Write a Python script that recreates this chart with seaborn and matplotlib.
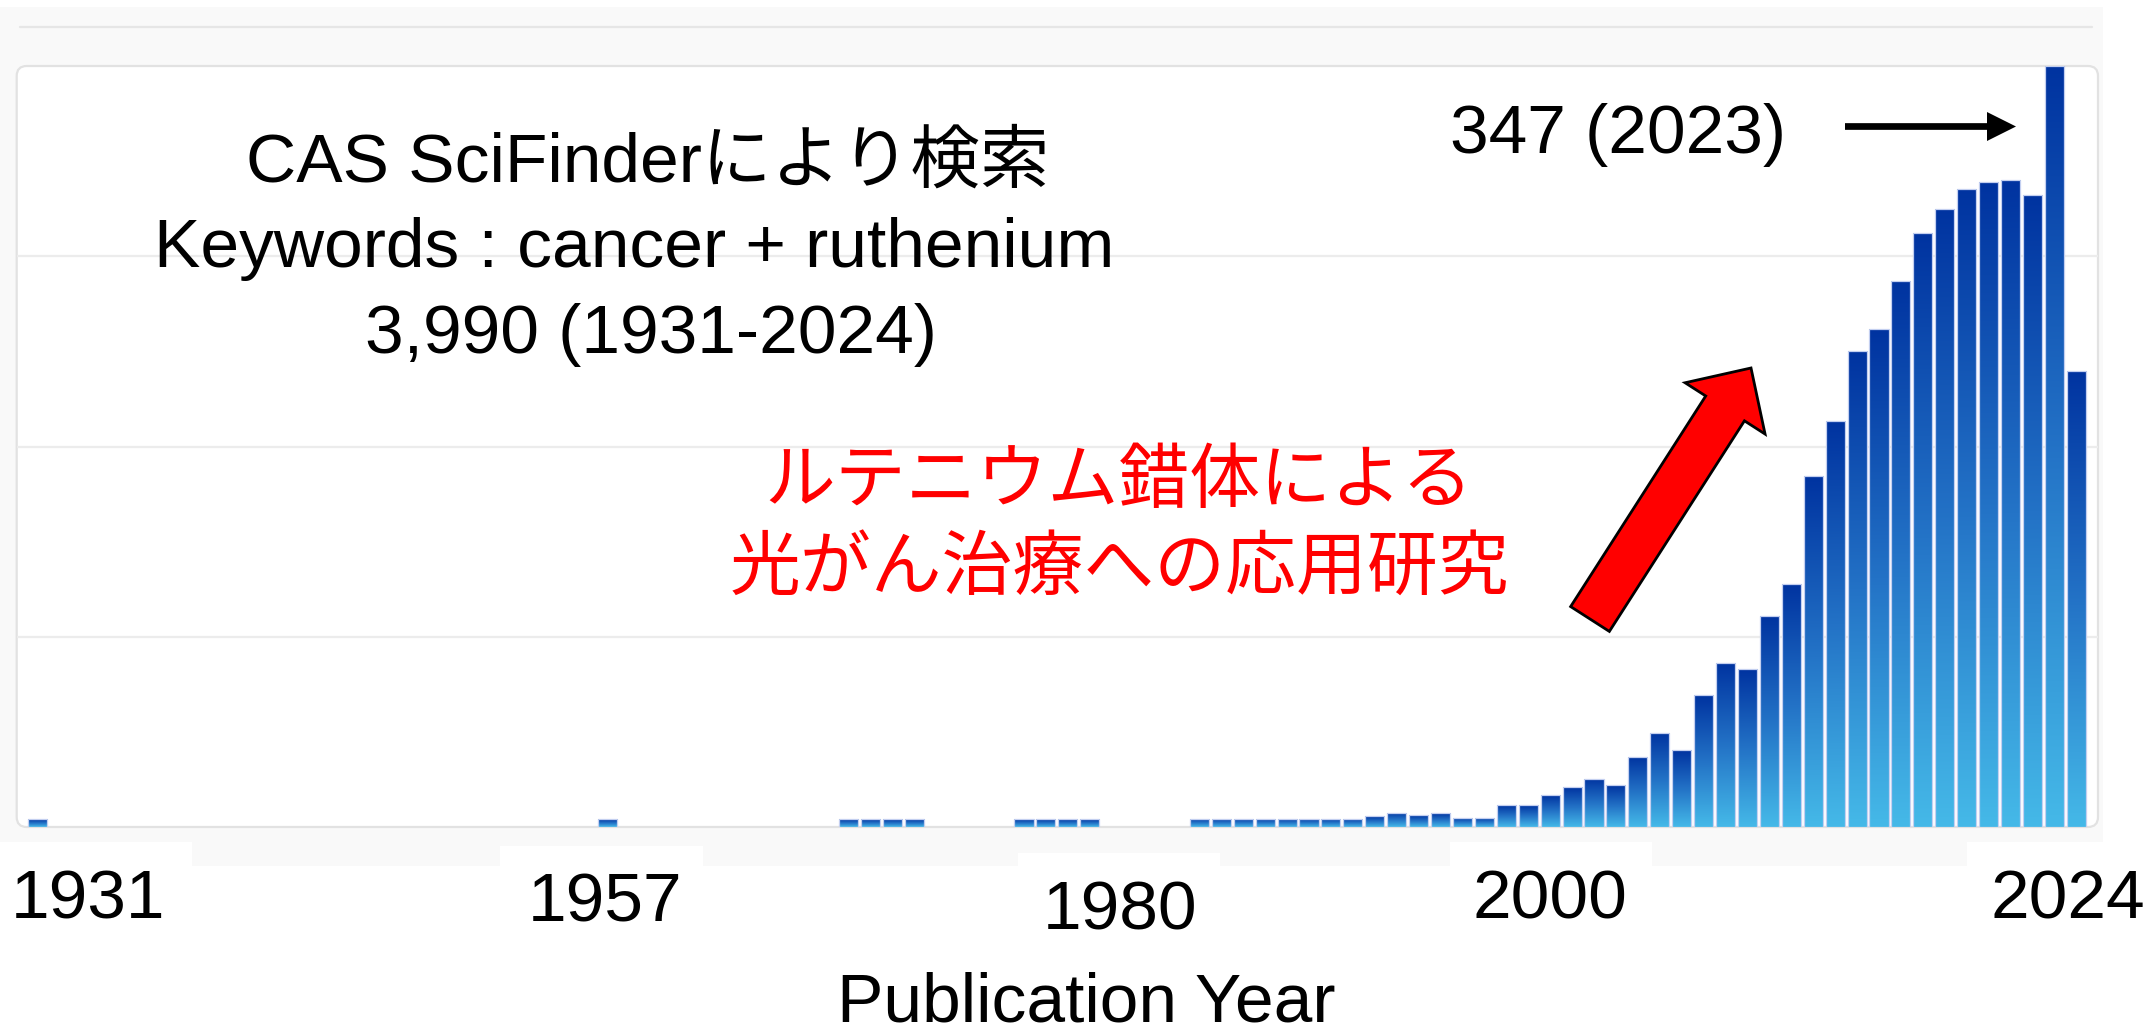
import numpy as np
import matplotlib
matplotlib.use("Agg")
import matplotlib.pyplot as plt
import seaborn as sns
from matplotlib.colors import LinearSegmentedColormap
from matplotlib.patches import Rectangle, FancyBboxPatch, FancyArrow
from matplotlib.transforms import ScaledTranslation

# publications per year (CAS SciFinder, cancer + ruthenium)
years = [1931, 1957, 1968, 1969, 1970, 1971, 1976, 1977, 1978, 1979,
         1984, 1985, 1986, 1987, 1988, 1989, 1990, 1991, 1992, 1993,
         1994, 1995, 1996, 1997, 1998, 1999, 2000, 2001, 2002, 2003,
         2004, 2005, 2006, 2007, 2008, 2009, 2010, 2011, 2012, 2013,
         2014, 2015, 2016, 2017, 2018, 2019, 2020, 2021, 2022, 2023, 2024]
counts = [3.5, 3.5, 3.5, 3.5, 3.5, 3.5, 3.5, 3.5, 3.5, 3.5,
          3.7, 3.7, 3.7, 3.7, 3.7, 3.7, 3.7, 3.7, 5, 6.4,
          5.3, 6.3, 4.3, 4.3, 10, 10, 14.5, 18.2, 22, 19,
          32, 43, 35, 60, 75, 72, 96, 111, 160, 185,
          217, 227, 249, 271, 282, 291, 294, 295, 288, 347, 208]

tick_years = [1931, 1957, 1980, 2000, 2024]
tick_text = ["1931", "1957", "1980", "2000", "2024"]
# per-label nudges in pixels (dx, dy): the labels in the source are placed by hand
tick_shift = {"1931": (50, 0), "1957": (-2, -3), "1980": (8, -11), "2000": (0, 0), "2024": (-8, 0)}

info_lines = ["CAS SciFinderにより検索", "Keywords : cancer + ruthenium", "3,990 (1931-2024)"]
peak_label = "347 (2023)"
red_lines = ["ルテニウム錯体による", "光がん治療への応用研究"]
xlabel = "Publication Year"

W, H = 2149, 1035

sns.set_style("white")
plt.rcParams["font.family"] = ["Liberation Sans", "Noto Sans CJK JP"]
plt.rcParams["text.color"] = "black"
plt.rcParams["xtick.color"] = "black"
plt.rcParams["axes.labelcolor"] = "black"

fig = plt.figure(figsize=(W / 100, H / 100), dpi=100)

# background: grey card, header line, white panel
bg = fig.add_axes([0, 0, 1, 1])
bg.set_xlim(0, W)
bg.set_ylim(H, 0)
bg.axis("off")
bg.add_patch(Rectangle((0, 7), 2103, 859, fc="#f9f9f9", ec="none"))
for x0, x1, y0 in [(0, 192, 842), (500, 703, 846), (1018, 1220, 853),
                   (1450, 1652, 842), (1967, 2103, 842)]:
    bg.add_patch(Rectangle((x0, y0), x1 - x0, 868 - y0, fc="white", ec="none"))
bg.plot([20, 2092], [27, 27], color="#e6e6e6", lw=1.6)
bg.add_patch(FancyBboxPatch((16.7, 66), 2098 - 16.7, 827 - 66,
                            boxstyle="round,pad=0,rounding_size=10",
                            fc="white", ec="#e2e2e2", lw=1.6))

# bar chart
ax = fig.add_axes([16.7 / W, (H - 827) / H, (2098 - 16.7) / W, 761 / H])
ax.patch.set_alpha(0)
sns.barplot(x=years, y=counts, native_scale=True, width=0.87, errorbar=None,
            color="#2a7fd0", saturation=1, linewidth=0, ax=ax)

cmap = LinearSegmentedColormap.from_list("bars", ["#45b9e8", "#2372c6", "#0033a0"])
grad = np.linspace(0, 1, 256).reshape(-1, 1)
for bar in ax.patches:
    x0, w, h = bar.get_x(), bar.get_width(), bar.get_height()
    im = ax.imshow(grad, extent=[x0, x0 + w, 0, h], origin="lower",
                   aspect="auto", cmap=cmap, zorder=2)
    im.set_clip_path(bar)
    bar.set_facecolor("none")
    bar.set_edgecolor("#c3cff0")
    bar.set_linewidth(0.9)
    bar.set_zorder(3)

ax.set_xlim(1930.05, 2024.99)
ax.set_ylim(0, 347)
ax.set_yticks([86.75, 173.5, 260.25])
ax.yaxis.grid(True, color="#ececec", lw=1.6)
ax.xaxis.grid(False)
ax.set_axisbelow(True)
ax.tick_params(axis="y", length=0, labelleft=False)
for s in ax.spines.values():
    s.set_visible(False)
ax.set_xlabel("")
ax.set_ylabel("")
ax.set_xticks(tick_years, tick_text, fontsize=50)
ax.tick_params(axis="x", length=0, pad=30, labelcolor="black")
for lab in ax.get_xticklabels():
    dx, dy = tick_shift[lab.get_text()]
    lab.set_transform(lab.get_transform() + ScaledTranslation(dx / 100, dy / 100, fig.dpi_scale_trans))

# annotations
ov = fig.add_axes([0, 0, 1, 1])
ov.set_xlim(0, W)
ov.set_ylim(H, 0)
ov.axis("off")
ov.patch.set_alpha(0)

for (cx, base), line in zip([(648, 181.7), (634, 266.7), (650.5, 353.3)], info_lines):
    ov.text(cx, base, line, ha="center", va="baseline", fontsize=50, color="black")

ov.text(1618, 153.3, peak_label, ha="center", va="baseline", fontsize=50, color="black")
ov.add_patch(FancyArrow(1845, 126.5, 171, 0, width=6.7, head_width=29, head_length=29,
                        length_includes_head=True, fc="black", ec="none"))

for base, line in zip([502, 590], red_lines):
    ov.text(1119, base, line, ha="center", va="baseline", fontsize=51,
            color="#ff0000", family=["Noto Sans CJK JP"])
ov.add_patch(FancyArrow(1590, 619, 161, -251, width=46, head_width=95, head_length=48,
                        length_includes_head=True, fc="#ff0000", ec="black", lw=2))

ov.text(1086, 1021, xlabel, ha="center", va="baseline", fontsize=50, color="black")

fig.savefig("out.png", dpi=100)
